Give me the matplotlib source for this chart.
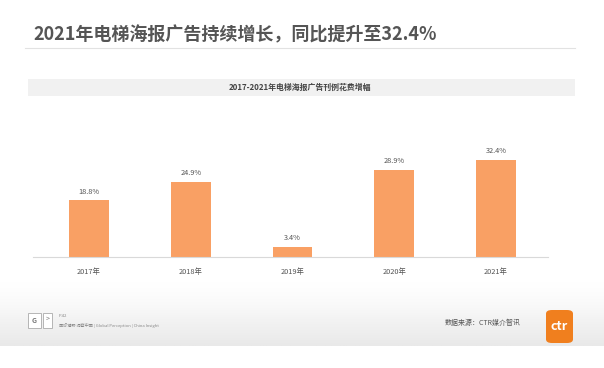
import numpy as np
import matplotlib
matplotlib.use("Agg")
import matplotlib.pyplot as plt
from matplotlib.patches import Rectangle, FancyBboxPatch
from matplotlib.colors import LinearSegmentedColormap

plt.rcParams["font.family"] = ["Noto Sans CJK SC", "DejaVu Sans"]

years = ["2017年", "2018年", "2019年", "2020年", "2021年"]
growth = [18.8, 24.9, 3.4, 28.9, 32.4]
value_labels = ["18.8%", "24.9%", "3.4%", "28.9%", "32.4%"]

title = "2021年电梯海报广告持续增长，同比提升至32.4%"
subtitle = "2017-2021年电梯海报广告刊例花费增幅"
source = "数据来源：CTR媒介智讯"
page_no = "P.42"
slogan = "国际视野 洞察中国 | Global Perception | China Insight"

W, H = 604, 368
fig = plt.figure(figsize=(W / 100, H / 100), dpi=100)
fig.patch.set_facecolor("white")


def fx(px):
    return px / W


def fy(py):
    return 1 - py / H


# faded grey footer background
fade = LinearSegmentedColormap.from_list("fade", ["#FFFFFF", "#F2F2F2", "#E9E9E9"])
bg = fig.add_axes([0, fy(346), 1, fy(280) - fy(346)], zorder=0)
grad = np.linspace(0.0, 1.0, 60)[:, None] ** 1.5 * np.ones((1, 200))
bg.imshow(grad, cmap=fade, vmin=0, vmax=1, aspect="auto")
bg.axis("off")

# title and rule
fig.text(fx(33), fy(35), title, fontsize=13, fontweight="bold",
         color="#555555", va="center", ha="left")
fig.add_artist(plt.Line2D([fx(25), fx(575)], [fy(48), fy(48)],
                          color="#E2E2E2", lw=0.8))

# subtitle band
fig.add_artist(Rectangle((fx(28), fy(96)), fx(575) - fx(28), fy(79) - fy(96),
                         transform=fig.transFigure, facecolor="#F1F1F1",
                         edgecolor="none"))
fig.text(fx(300), fy(87.5), subtitle, fontsize=5.7, fontweight="bold",
         color="#444444", ha="center", va="center")

# bar chart
ax = fig.add_axes([fx(33), fy(256.7), fx(548) - fx(33), 120 / H], zorder=2)
ax.patch.set_alpha(0)
x = np.arange(len(years))
ax.bar(x, growth, width=0.39, color="#F9A064")
for xi, v, lab in zip(x, growth, value_labels):
    ax.text(xi, v + 1.6, lab, ha="center", va="bottom", fontsize=5.3,
            color="#555555")
ax.set_xlim(-0.55, 4.51)
ax.set_ylim(0, 40)
ax.set_xticks(x)
ax.set_xticklabels(years, fontsize=5.3, color="#555555")
ax.tick_params(axis="x", length=0, pad=8)
ax.set_yticks([])
for s in ("top", "right", "left"):
    ax.spines[s].set_visible(False)
ax.spines["bottom"].set_color("#D9D9D9")
ax.spines["bottom"].set_linewidth(0.8)

# footer
fig.add_artist(Rectangle((fx(28), fy(328)), fx(13), fy(313) - fy(328),
                         transform=fig.transFigure, facecolor="white",
                         edgecolor="#AAAAAA", lw=0.6, zorder=3))
fig.add_artist(Rectangle((fx(43), fy(328)), fx(9), fy(313) - fy(328),
                         transform=fig.transFigure, facecolor="white",
                         edgecolor="#AAAAAA", lw=0.6, zorder=3))
fig.text(fx(34.5), fy(320.5), "G", fontsize=5, fontweight="bold",
         color="#777777", ha="center", va="center", zorder=4)
fig.text(fx(47.5), fy(319), ">", fontsize=5, color="#777777",
         ha="center", va="center", zorder=4)
fig.text(fx(59), fy(316), page_no, fontsize=3, color="#888888",
         ha="left", va="center", zorder=4)
fig.text(fx(59), fy(325.5), slogan, fontsize=3, color="#888888",
         ha="left", va="center", zorder=4)
fig.text(fx(445), fy(323), source, fontsize=5, color="#555555",
         ha="left", va="center", zorder=4)

fig.add_artist(FancyBboxPatch((fx(546), fy(343)), fx(27), fy(310) - fy(343),
                              boxstyle="round,pad=0,rounding_size=0.01",
                              transform=fig.transFigure, facecolor="#F07F1E",
                              edgecolor="none", zorder=3))
fig.text(fx(559.5), fy(327), "ctr", fontsize=9, fontweight="bold",
         color="white", ha="center", va="center", zorder=4)

fig.savefig("out.png", dpi=100)
